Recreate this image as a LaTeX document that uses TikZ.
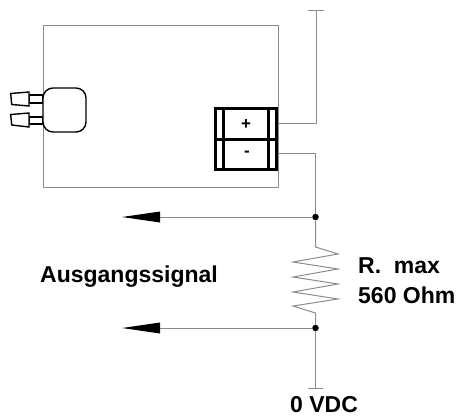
\documentclass[tikz,border=0pt]{standalone}
\usepackage{fontspec}
\setmainfont{Liberation Sans}
\definecolor{wire}{gray}{0.55}
\tikzset{
  wireline/.style={draw=wire,line width=1pt},
  blackline/.style={draw=black,line width=1.4pt},
  termline/.style={draw=black,line width=3pt},
  junction/.style={circle,fill=black,draw=none,inner sep=0pt,minimum size=6.5pt},
  lbl/.style={font=\fontsize{23}{23}\selectfont\bfseries,anchor=base west,inner sep=0pt},
  arrowtip/.style={fill=black,draw=none},
}
\begin{document}
\begin{tikzpicture}[x=1pt,y=-1pt]
\useasboundingbox (0,0) rectangle (457,416);
\fill[white] (0,0) rectangle (457,416);
% housing
\draw[wireline] (43,25) rectangle (278,187);
% sensor with tubes
\draw[blackline,fill=white] (29,95) rectangle (43,103);
\draw[blackline,fill=white] (29,117) rectangle (43,124);
\draw[blackline,fill=white] (10.7,93.5) -- (29,92) -- (29,106) -- (11.7,104.5) -- cycle;
\draw[blackline,fill=white] (10.7,114.5) -- (29,113) -- (29,127) -- (11.7,125) -- cycle;
\draw[blackline,fill=white,rounded corners=10pt] (43,88) rectangle (86,132);
% terminal block
\draw[termline,fill=white] (215,108.5) rectangle (276.5,169);
\draw[termline] (215,139) -- (276.5,139);
\draw[termline] (223,108.5) -- (223,169);
\draw[termline] (268,108.5) -- (268,169);
\node[font=\fontsize{17}{17}\selectfont\bfseries,inner sep=0pt] (plus) at (246,124.5) {+};
\node[font=\fontsize{17}{17}\selectfont\bfseries,inner sep=0pt] (minus) at (247,153.5) {-};
% coordinates
\coordinate (top) at (316,10);
\coordinate (tplus) at (278,123);
\coordinate (tminus) at (278,153);
\node[junction] (j1) at (315.5,217) {};
\node[junction] (j2) at (315.5,328) {};
\coordinate (bot) at (315.5,388);
\coordinate (a1) at (160,217);
\coordinate (a2) at (160,328);
% wiring
\draw[wireline] (tplus) -- (316,123) -- (top);
\draw[wireline] (308,10) -- (324,10);
\draw[wireline] (tminus) -- (315.5,153) -- (j1);
\draw[wireline] (j1) -- (315.5,247) -- (338,254) -- (293,262) -- (338,269) -- (293,277) -- (338,284) -- (293,292) -- (338,299) -- (293,306) -- (315.5,313) -- (j2);
\draw[wireline] (j2) -- (bot);
\draw[wireline] (308,388) -- (323,388);
\draw[wireline] (a1) -- (j1);
\draw[wireline] (a2) -- (j2);
\fill[arrowtip] (122,217) -- (160,211.5) -- (160,222.5) -- cycle;
\fill[arrowtip] (122,328) -- (160,322.5) -- (160,333.5) -- cycle;
% labels
\node[lbl] (sig) at (40,282) {Ausgangssignal};
\node[lbl] (r) at (358,273.5) {R.\ \ max};
\node[lbl] (ohm) at (358,303.5) {560 Ohm};
\node[lbl] (vdc) at (290,412) {0 VDC};
\end{tikzpicture}
\end{document}
